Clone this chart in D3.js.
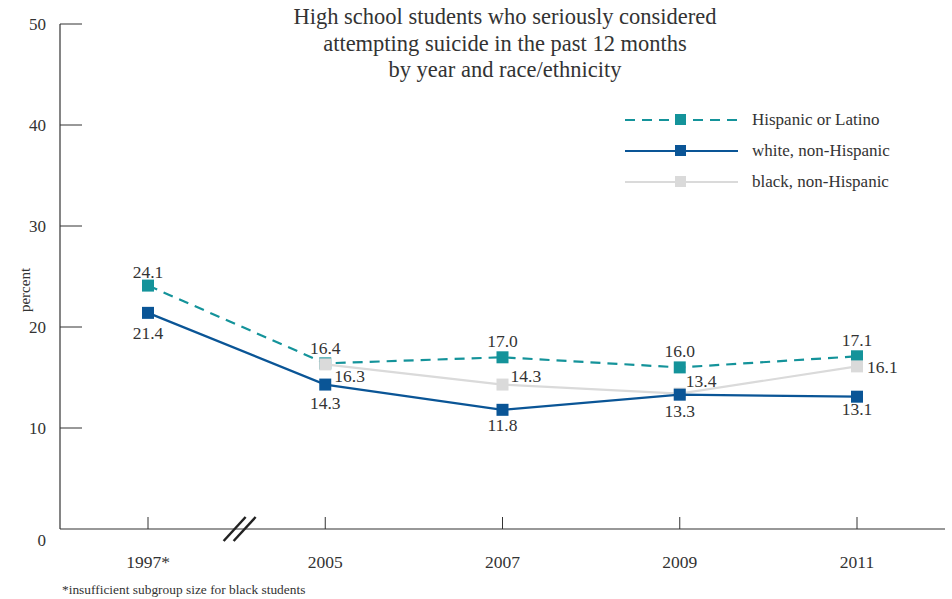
<!DOCTYPE html>
<html><head><meta charset="utf-8">
<script src="https://cdn.jsdelivr.net/npm/d3@7"></script>
<style>body{margin:0;background:#fff;} text{font-family:"Liberation Serif","DejaVu Serif",serif;fill:#333;}</style>
</head><body><svg id="c" width="952" height="599"></svg>
<script>
const years = ["1997*","2005","2007","2009","2011"];
const hispanic = [24.1,16.4,17.0,16.0,17.1];
const white = [21.4,14.3,11.8,13.3,13.1];
const black = [null,16.3,14.3,13.4,16.1];
const yTicks = [0,10,20,30,40,50];
const titleLines = ["High school students who seriously considered","attempting suicide in the past 12 months","by year and race/ethnicity"];
const footnote = "*insufficient subgroup size for black students";

// label placements (layout only): [dx, dy, anchor]
const hispLab = [[0,-8,"middle"],[0,-9,"middle"],[0,-10,"middle"],[0,-10,"middle"],[0,-10,"middle"]];
const whiteLab = [[0,26,"middle"],[0,24,"middle"],[0,21,"middle"],[0,22,"middle"],[0,18,"middle"]];
const blackLab = [null,[9,18,"start"],[8,-3,"start"],[6,-7,"start"],[10,7,"start"]];

const svg = d3.select("#c");
const x = d3.scalePoint().domain(years).range([148,857]);
const y = d3.scaleLinear().domain([0,50]).range([529,24]);

// axes
svg.append("line").attr("x1",60).attr("x2",60).attr("y1",24).attr("y2",529).attr("stroke","#333").attr("stroke-width",1.2);
svg.append("line").attr("x1",60).attr("x2",945).attr("y1",529).attr("y2",529).attr("stroke","#333").attr("stroke-width",1.2);
yTicks.forEach(t=>{
  if(t>0) svg.append("line").attr("x1",60).attr("x2",82).attr("y1",y(t)).attr("y2",y(t)).attr("stroke","#333").attr("stroke-width",1);
  svg.append("text").attr("x",46).attr("y",t===0? y(t)+17 : y(t)+6).attr("text-anchor","end").attr("font-size",17).text(t);
});
years.forEach(v=>{
  svg.append("line").attr("x1",x(v)).attr("x2",x(v)).attr("y1",517).attr("y2",529).attr("stroke","#333").attr("stroke-width",1);
  svg.append("text").attr("x",x(v)).attr("y",568).attr("text-anchor","middle").attr("font-size",17.5).text(v);
});
// axis break
const bx = (x(years[0])+x(years[1]))/2 + 3;
[-5,5].forEach(o=>{
  svg.append("line").attr("x1",bx+o-11).attr("x2",bx+o+11).attr("y1",541).attr("y2",517).attr("stroke","#222").attr("stroke-width",2.5);
});
svg.append("text").attr("transform","translate(30,290) rotate(-90)").attr("text-anchor","middle").attr("font-size",15).text("percent");

// title
titleLines.forEach((t,i)=>svg.append("text").attr("x",505).attr("y",24+i*26.5).attr("text-anchor","middle").attr("font-size",22.5).text(t));
svg.append("text").attr("x",62).attr("y",594).attr("font-size",13.4).text(footnote);

const series = [
  {name:"Hispanic or Latino", vals:hispanic, color:"#14939a", dash:"10,7", lab:hispLab},
  {name:"black, non-Hispanic", vals:black, color:"#dadada", dash:null, lab:blackLab},
  {name:"white, non-Hispanic", vals:white, color:"#0a5596", dash:null, lab:whiteLab}
];
const line = d3.line().defined(d=>d.v!=null).x(d=>x(d.k)).y(d=>y(d.v));
series.forEach(s=>{
  const pts = years.map((k,i)=>({k,v:s.vals[i],i}));
  svg.append("path").datum(pts).attr("d",line).attr("fill","none").attr("stroke",s.color).attr("stroke-width",2.2).attr("stroke-dasharray",s.dash);
  svg.selectAll(null).data(pts.filter(d=>d.v!=null)).enter().append("rect")
    .attr("x",d=>x(d.k)-6).attr("y",d=>y(d.v)-6).attr("width",12).attr("height",12).attr("fill",s.color);
});
series.forEach(s=>{
  years.forEach((k,i)=>{
    if(s.vals[i]==null) return;
    const o = s.lab[i];
    svg.append("text").attr("x",x(k)+o[0]).attr("y",y(s.vals[i])+o[1]).attr("text-anchor",o[2]).attr("font-size",17.5).text(s.vals[i].toFixed(1));
  });
});

// legend
const legOrder = [series[0],series[2],series[1]];
legOrder.forEach((s,i)=>{
  const ly = 120 + i*31;
  svg.append("line").attr("x1",625).attr("x2",738).attr("y1",ly).attr("y2",ly).attr("stroke",s.color).attr("stroke-width",2.2).attr("stroke-dasharray",s.dash);
  svg.append("rect").attr("x",675).attr("y",ly-6).attr("width",11).attr("height",11).attr("fill",s.color);
  svg.append("text").attr("x",752).attr("y",ly+5).attr("font-size",17).text(s.name);
});
</script></body></html>
